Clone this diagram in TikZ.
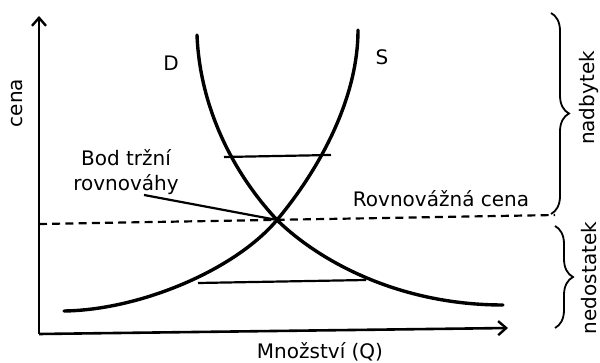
\documentclass[tikz,border=0pt]{standalone}
\usepackage{fontspec}
\setmainfont{DejaVu Sans}
\usepackage{tikz}
\usetikzlibrary{positioning,calc}
\usetikzlibrary{arrows.meta,decorations.pathreplacing}
\tikzset{
  axis/.style={draw=black,line width=1.3pt,-{Straight Barb[length=4pt,width=7pt,line width=1.2pt]}},
  curve/.style={draw=black,line width=1.7pt,line cap=round},
  gap/.style={draw=black,line width=1.1pt},
  lab/.style={inner sep=1pt,font=\fontsize{10}{12.5}\selectfont},
  brc/.style={draw=black,line width=0.9pt,decorate,decoration={brace,amplitude=9pt}},
}
\tikzset{eq/.style={draw=black,line width=1.1pt,dash pattern=on 4pt off 2.6pt}}

\begin{document}
\begin{tikzpicture}[x=0.5pt,y=-0.5pt]
\useasboundingbox (0,0) rectangle (600,363);
% axes
\coordinate (O) at (39,334);\coordinate (ytop) at (39,16);\coordinate (xend) at (508,328);
\draw[axis](O)--(ytop);\draw[axis](O)--(xend);
\node[lab,rotate=90](cena) at (17,103){cena};\node[lab](mnoz) at (320,352){Množství (Q)};
% demand and supply
\coordinate (E) at (277,220);
\coordinate (D0) at (197,35);\coordinate (D1) at (503,305);
\coordinate (S0) at (358,30);\coordinate (S1) at (64,311);
\draw[curve](D0)..controls(200,110)and(235,175)..(E)..controls(320,262)and(400,305)..(D1);
\draw[curve](S0)..controls(358,100)and(318,171)..(E)..controls(235,270)and(140,310)..(S1);
\node[lab](D) at (171,63){D};\node[lab](S) at (382,57){S};
% price lines
\coordinate (uL) at (224,157);\coordinate (uR) at (331,155);\coordinate (lL) at (198,283);\coordinate (lR) at (366,280);
\draw[gap](uL)--(uR);\draw[gap](lL)--(lR);
\coordinate (pL) at (39,224);\coordinate (pR) at (555,215);\draw[eq](pL)--(pR);
\node[lab](rc) at (441,199){Rovnovážná cena};
\node[lab,align=center](bod) at (126,172){Bod tržní\\rovnováhy};
\draw[gap,shorten >=1.5pt]([xshift=9pt,yshift=1pt]bod.south)--(E);
% braces
\draw[brc](551,13)--(551,214);\node[lab,rotate=90](nad) at (589,98){nadbytek};
\draw[brc](555,226)--(555,328);\node[lab,rotate=90](ned) at (589,278){nedostatek};
\end{tikzpicture}
\end{document}
